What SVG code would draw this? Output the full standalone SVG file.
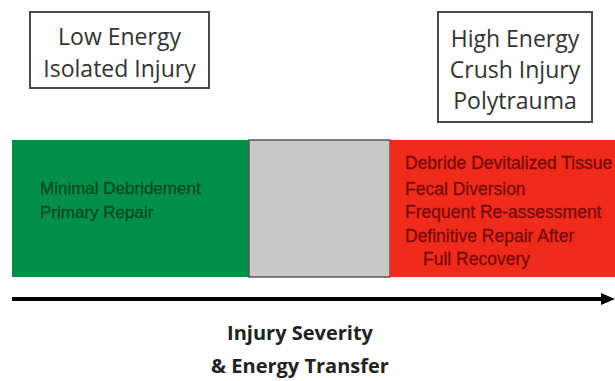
<svg xmlns="http://www.w3.org/2000/svg" width="615" height="381" viewBox="0 0 615 381">
<style>
.box{fill:#fff;stroke:#4a4a4a;stroke-width:2}
.title{font-family:"Open Sans","Liberation Sans",sans-serif;font-size:23px;fill:#333;text-anchor:middle}
.gt{font-family:"Liberation Sans",Arial,sans-serif;font-size:17px;fill:#0d4a22;stroke:#0d4a22;stroke-width:0.3}
.rt{font-family:"Liberation Sans",Arial,sans-serif;font-size:17.5px;fill:#7a0a0a;stroke:#7a0a0a;stroke-width:0.3}
.axis{font-family:"Open Sans","Liberation Sans",sans-serif;font-size:20px;font-weight:bold;fill:#222;text-anchor:middle}
</style>
<defs>
<marker id="ah" markerWidth="14" markerHeight="14" refX="2" refY="7" orient="auto" markerUnits="userSpaceOnUse">
<path d="M0,1 L14,7 L0,13 Z" fill="#000"/>
</marker>
</defs>
<rect width="615" height="381" fill="#fff"/>
<g id="low-energy">
<rect class="box" x="30" y="12" width="179" height="76"/>
<text class="title" x="119.5" y="45">Low Energy</text>
<text class="title" x="119.5" y="77">Isolated Injury</text>
</g>
<g id="high-energy">
<rect class="box" x="438" y="12" width="154" height="110"/>
<text class="title" x="515" y="47">High Energy</text>
<text class="title" x="515" y="78">Crush Injury</text>
<text class="title" x="515" y="109">Polytrauma</text>
</g>
<g id="green-zone">
<rect x="12" y="140" width="237" height="137" fill="#038f45"/>
<text class="gt" x="40" y="194">Minimal Debridement</text>
<text class="gt" x="40" y="218">Primary Repair</text>
</g>
<g id="grey-zone">
<rect x="249" y="140" width="141" height="137" fill="#c9c9c9" stroke="#555" stroke-width="1.5"/>
</g>
<g id="red-zone">
<rect x="390" y="140" width="225" height="137" fill="#f02b1b"/>
<text class="rt" x="405" y="169">Debride Devitalized Tissue</text>
<text class="rt" x="405" y="195">Fecal Diversion</text>
<text class="rt" x="405" y="218">Frequent Re-assessment</text>
<text class="rt" x="405" y="242">Definitive Repair After</text>
<text class="rt" x="423" y="265">Full Recovery</text>
</g>
<g id="connectors">
<line x1="12" y1="299" x2="603" y2="299" stroke="#000" stroke-width="4" marker-end="url(#ah)"/>
</g>
<g id="axis-label">
<text class="axis" x="300" y="340">Injury Severity</text>
<text class="axis" x="300" y="373">&amp; Energy Transfer</text>
</g>
</svg>
